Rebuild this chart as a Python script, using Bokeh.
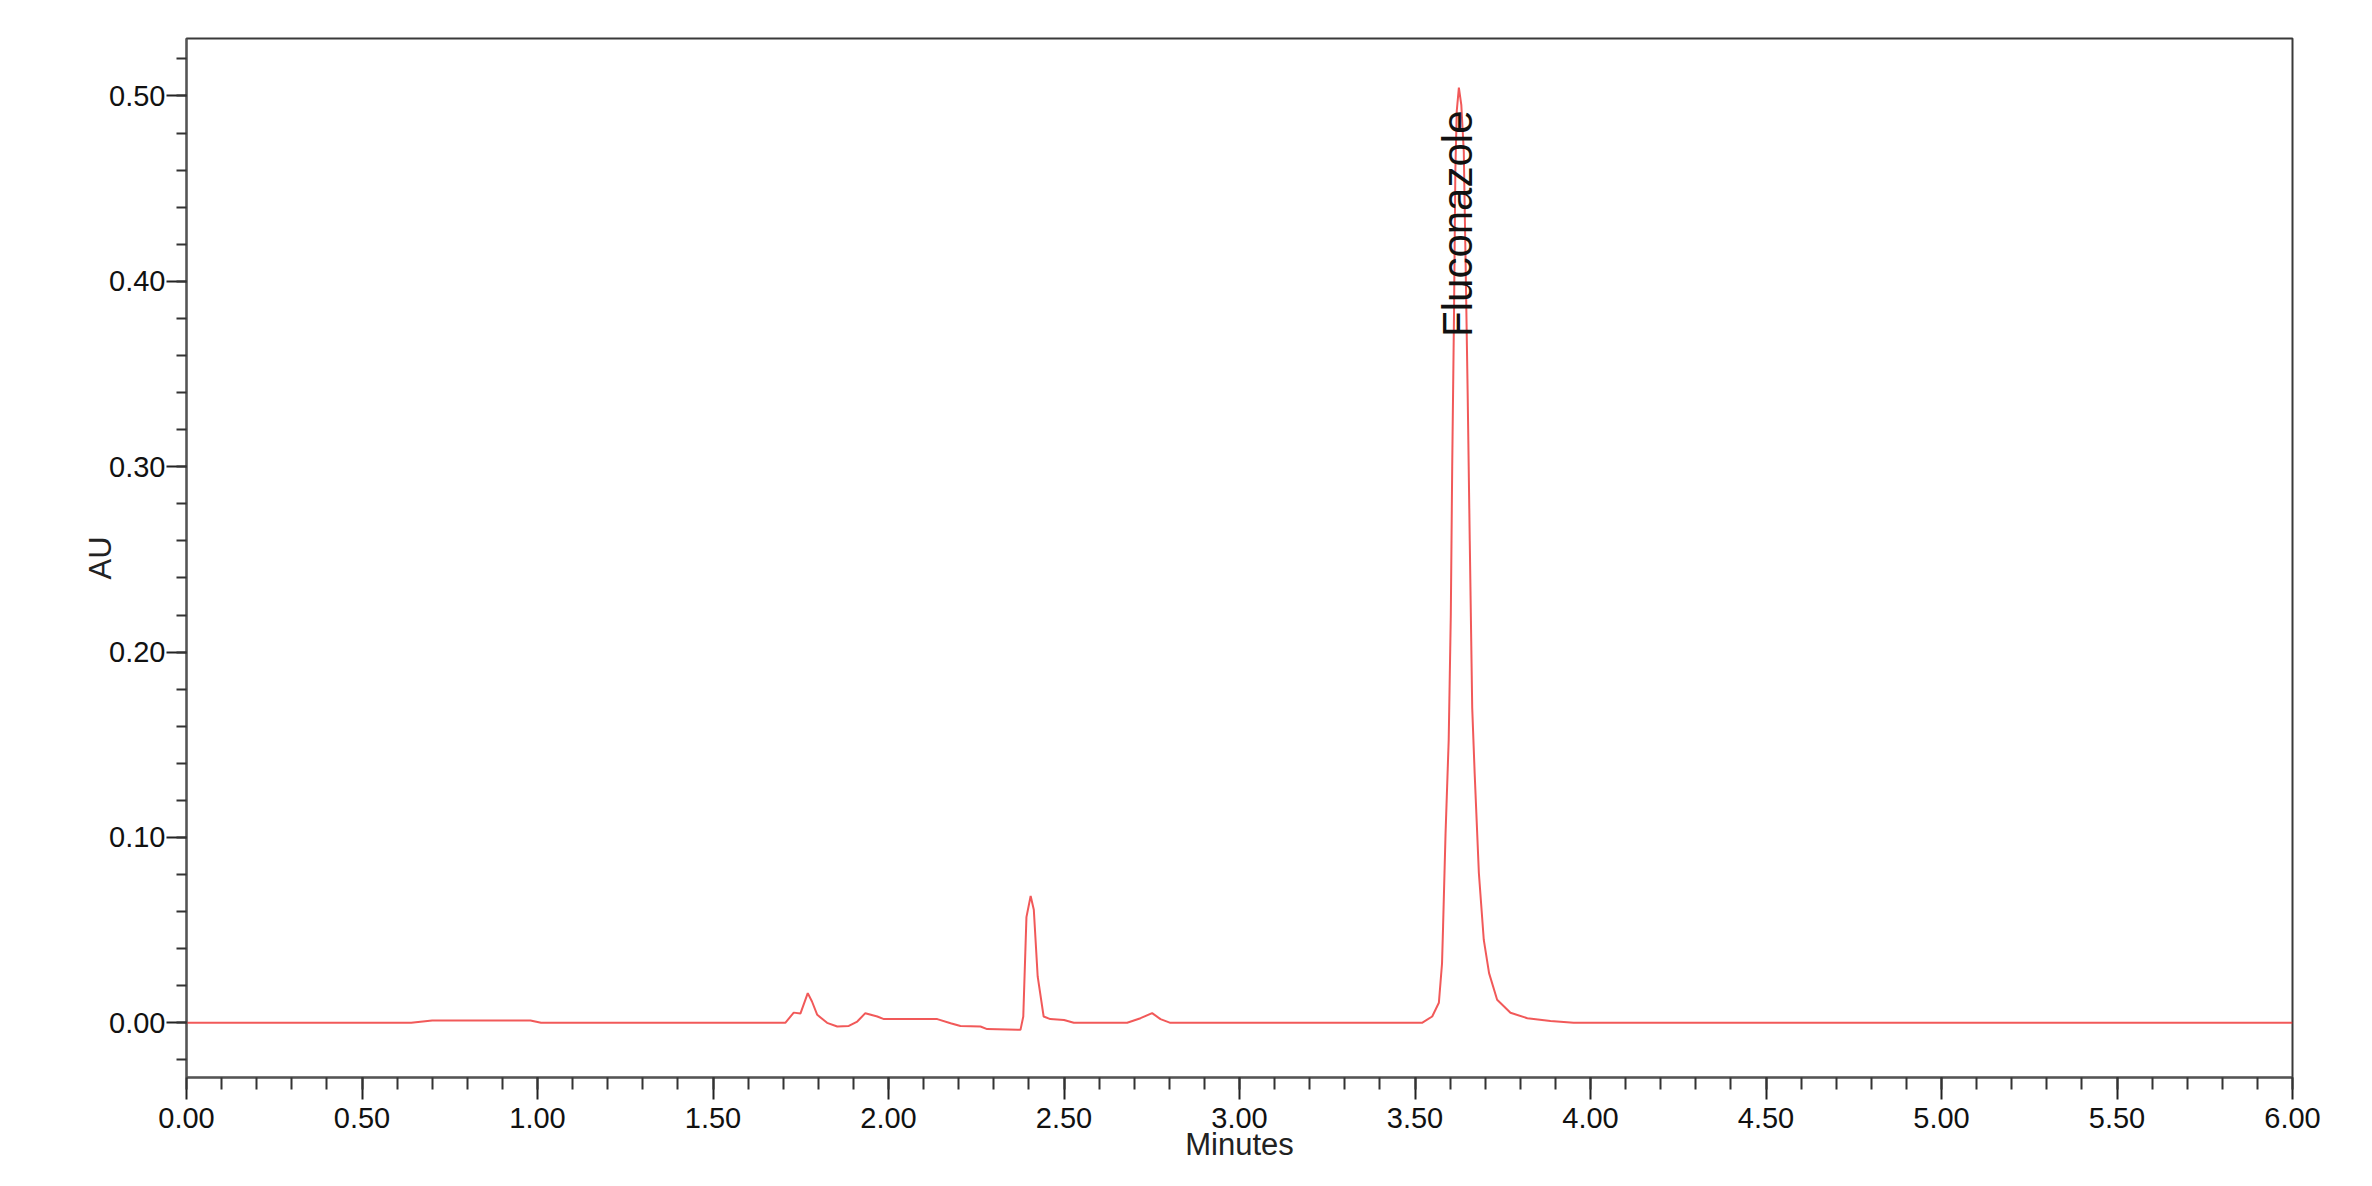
import numpy as np
from bokeh.plotting import figure
from bokeh.models import Range1d, FixedTicker, PrintfTickFormatter, ColumnDataSource
from bokeh.core.properties import value
from bokeh.embed import file_html
from bokeh.resources import INLINE

# ---- data ----
minutes = [0.00, 0.50, 0.64, 0.70, 0.98, 1.01, 1.60, 1.706, 1.730, 1.749, 1.770, 1.782, 1.797,
           1.825, 1.854, 1.887, 1.911, 1.934, 1.968, 1.987, 2.139, 2.177, 2.205, 2.262, 2.281,
           2.376, 2.384, 2.393, 2.405, 2.414, 2.425, 2.442, 2.461, 2.500, 2.528, 2.680, 2.718,
           2.751, 2.775, 2.803, 3.520, 3.549, 3.568, 3.577, 3.580, 3.587, 3.596, 3.602, 3.606,
           3.611, 3.615, 3.619, 3.625, 3.632, 3.639, 3.645, 3.650, 3.656, 3.663, 3.670, 3.682,
           3.696, 3.711, 3.734, 3.772, 3.820, 3.886, 3.952, 6.00]
au = [0.0, 0.0, 0.0, 0.0012, 0.0012, 0.0, 0.0, 0.0, 0.0055, 0.0050, 0.0160, 0.0115, 0.0043,
      0.0, -0.0020, -0.0017, 0.0007, 0.0052, 0.0034, 0.0020, 0.0020, -0.0002, -0.0017, -0.0020, -0.0034,
      -0.0038, 0.0034, 0.057, 0.0684, 0.061, 0.025, 0.0034, 0.0020, 0.0015, 0.0, 0.0, 0.0025,
      0.0052, 0.0020, 0.0, 0.0, 0.0034, 0.0108, 0.032, 0.052, 0.102, 0.1525, 0.22, 0.30,
      0.38, 0.46, 0.492, 0.5045, 0.495, 0.47, 0.40, 0.34, 0.26, 0.170, 0.1345, 0.0807,
      0.0447, 0.0268, 0.0124, 0.0054, 0.0025, 0.0010, 0.0, 0.0]

peak_names = ["Fluconazole"]
peak_label_x = [3.621]
peak_label_y = [0.370]

x_major_ticks = [0.0, 0.5, 1.0, 1.5, 2.0, 2.5, 3.0, 3.5, 4.0, 4.5, 5.0, 5.5, 6.0]
x_minor_ticks = [round(i * 0.1, 2) for i in range(0, 61)]
y_major_ticks = [0.0, 0.1, 0.2, 0.3, 0.4, 0.5]
y_minor_ticks = [round(-0.02 + i * 0.02, 2) for i in range(0, 28)]

W, H = 2356, 1170
p = figure(width=W, height=H, output_backend="svg", toolbar_location=None,
           x_range=Range1d(0, 6), y_range=Range1d(-0.0295, 0.531),
           min_border_left=186, min_border_right=64, min_border_top=38, min_border_bottom=93)

p.line(minutes, au, line_color="#ee3030", line_width=2, line_alpha=0.8)

src = ColumnDataSource(dict(x=peak_label_x, y=peak_label_y, t=peak_names))
p.text(x="x", y="y", text="t", source=src, angle=np.pi / 2, text_align="left",
       text_baseline="middle", text_font=value("Liberation Sans"),
       text_font_size="42px", text_color="#111111")

p.xgrid.visible = False
p.ygrid.visible = False
p.background_fill_color = "white"
p.border_fill_color = "white"
p.outline_line_color = "#3a3a3a"
p.outline_line_width = 2

font = "Liberation Sans"
for ax in (p.xaxis[0], p.yaxis[0]):
    ax.axis_line_color = "#555555"
    ax.axis_line_width = 2
    ax.major_tick_line_color = "#222222"
    ax.major_tick_line_width = 2
    ax.minor_tick_line_color = "#333333"
    ax.minor_tick_line_width = 2
    ax.major_tick_in = 0
    ax.minor_tick_in = 0
    ax.major_label_text_font = font
    ax.major_label_text_font_size = "29px"
    ax.major_label_text_color = "#111111"
    ax.axis_label_text_font = font
    ax.axis_label_text_font_size = "31px"
    ax.axis_label_text_font_style = "normal"
    ax.axis_label_text_color = "#222222"
    ax.formatter = PrintfTickFormatter(format="%.2f")

xa = p.xaxis[0]
xa.ticker = FixedTicker(ticks=x_major_ticks, minor_ticks=x_minor_ticks)
xa.major_tick_out = 22
xa.minor_tick_out = 12
xa.major_label_standoff = 8
xa.axis_label = "Minutes"
xa.axis_label_standoff = -4

ya = p.yaxis[0]
ya.ticker = FixedTicker(ticks=y_major_ticks, minor_ticks=y_minor_ticks)
ya.major_tick_out = 20
ya.minor_tick_out = 10
ya.major_label_standoff = 1
ya.axis_label = "AU"
ya.axis_label_standoff = -12

open("out.html", "w").write(file_html(p, INLINE))
